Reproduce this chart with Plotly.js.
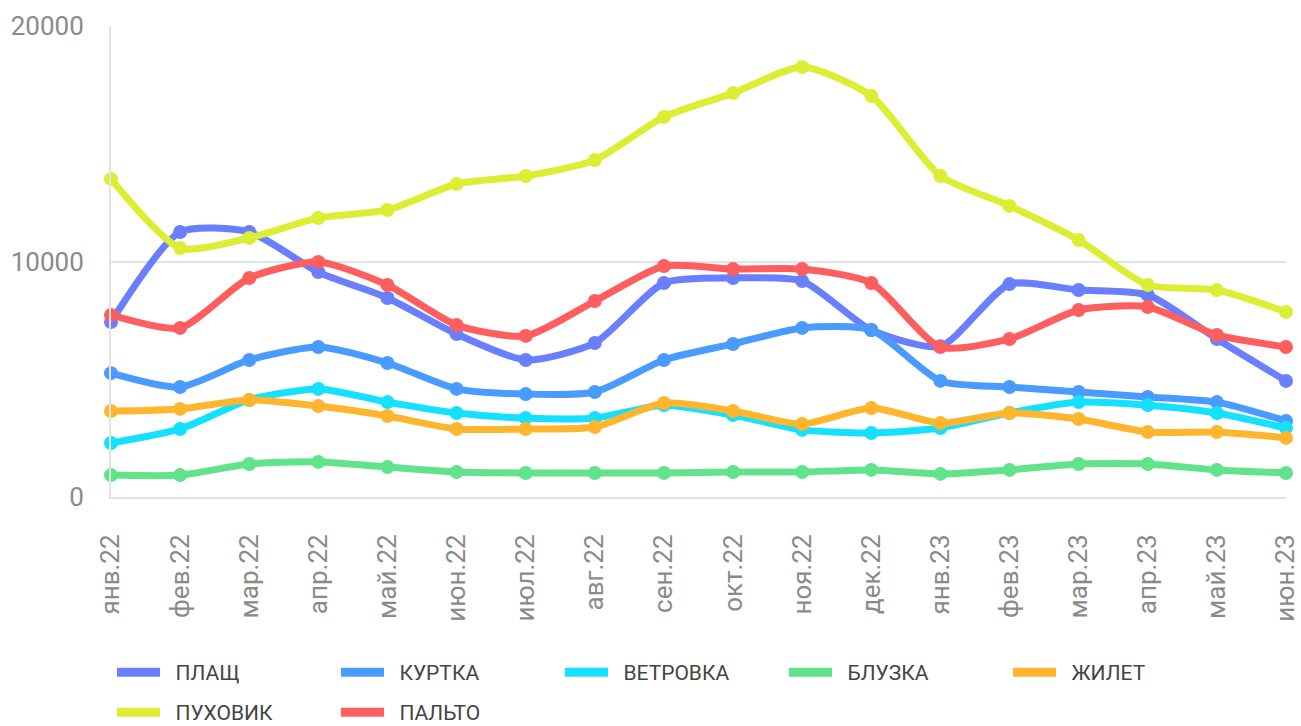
<!DOCTYPE html>
<html>
<head>
<meta charset="utf-8">
<script src="https://cdn.plot.ly/plotly-3.0.1.min.js"></script>
<style>html,body{margin:0;padding:0;background:#fff;}#chart{width:1301px;height:726px;}</style>
</head>
<body>
<div id="chart"></div>
<script>
const months = ["янв.22","фев.22","мар.22","апр.22","май.22","июн.22","июл.22","авг.22","сен.22","окт.22","ноя.22","дек.22","янв.23","фев.23","мар.23","апр.23","май.23","июн.23"];

const plashch   = [7430,11250,11250,9550,8450,6920,5820,6540,9090,9300,9170,7090,6400,9040,8790,8580,6710,4930];
const kurtka    = [5260,4670,5820,6370,5690,4590,4370,4460,5820,6500,7180,7090,4930,4670,4460,4250,4030,3230];
const vetrovka  = [2290,2890,4120,4590,4030,3570,3350,3350,3900,3480,2850,2720,2930,3570,4030,3900,3570,2930];
const bluzka    = [930,930,1400,1490,1270,1060,1020,1020,1020,1060,1060,1150,980,1150,1400,1400,1150,1020];
const zhilet    = [3650,3740,4120,3860,3440,2890,2890,2970,3990,3650,3100,3780,3140,3570,3310,2760,2760,2510];
const puhovik   = [13500,10570,11000,11850,12190,13290,13630,14310,16140,17150,18260,17030,13630,12360,10910,9000,8790,7860];
const palto     = [7730,7180,9300,9980,9000,7300,6840,8320,9810,9680,9680,9090,6370,6710,7940,8070,6880,6370];

const seriesNames = ["ПЛАЩ","КУРТКА","ВЕТРОВКА","БЛУЗКА","ЖИЛЕТ","ПУХОВИК","ПАЛЬТО"];
const seriesData = [plashch,kurtka,vetrovka,bluzka,zhilet,puhovik,palto];
const colors = ["#6a7fff","#4a9bff","#15e1ff","#60e38a","#ffb62e","#dcee33","#ff5e5e"];
const legendRow = ["legend","legend","legend","legend","legend","legend2","legend2"];

const traces = [];
seriesData.forEach((vals,i)=>{
  traces.push({
    x: months, y: vals, type:'scatter', mode:'lines+markers', name: seriesNames[i],
    line:{color:colors[i], width:7, shape:'spline', smoothing:0.65},
    marker:{color:colors[i], size:14},
    cliponaxis:false, showlegend:false
  });
});
seriesData.forEach((vals,i)=>{
  traces.push({
    x:[null], y:[null], type:'scatter', mode:'lines', name: '\u00a0\u00a0' + seriesNames[i],
    line:{color:colors[i], width:9}, showlegend:true, legend: legendRow[i]
  });
});

const legendBase = {
  orientation:'h', xref:'container', yref:'container', xanchor:'left', yanchor:'top',
  entrywidth:166, entrywidthmode:'pixels', itemwidth:43,
  font:{size:21, color:'#444', family:'Roboto, sans-serif'},
  traceorder:'normal', bgcolor:'rgba(0,0,0,0)'
};

const layout = {
  width:1301, height:726,
  margin:{l:111, r:15, t:26, b:229, autoexpand:false},
  paper_bgcolor:'#fff', plot_bgcolor:'#fff',
  font:{family:'Roboto, sans-serif'},
  showlegend:true,
  xaxis:{
    type:'category', range:[0, months.length-1], autorange:false, automargin:false,
    showgrid:false, zeroline:false, showline:true, linecolor:'#e3e3e3', linewidth:2,
    tickangle:-90, ticks:'outside', ticklen:25, tickcolor:'rgba(0,0,0,0)',
    tickfont:{size:26, color:'#8a8a8a', family:'Roboto, sans-serif'}
  },
  yaxis:{
    range:[0,20000], autorange:false, automargin:false, tickvals:[0,10000,20000], ticktext:['0','10000','20000'],
    showgrid:true, gridcolor:'#e3e3e3', gridwidth:2, zeroline:false,
    showline:true, linecolor:'#e3e3e3', linewidth:2,
    ticks:'outside', ticklen:20, tickcolor:'rgba(0,0,0,0)',
    tickfont:{size:26, color:'#8a8a8a', family:'Roboto, sans-serif'}
  },
  legend: Object.assign({}, legendBase, {x:112/1301, y:1-652/726}),
  legend2: Object.assign({}, legendBase, {x:112/1301, y:1-692/726})
};

Plotly.newPlot('chart', traces, layout, {displayModeBar:false, staticPlot:true});
</script>
</body>
</html>
